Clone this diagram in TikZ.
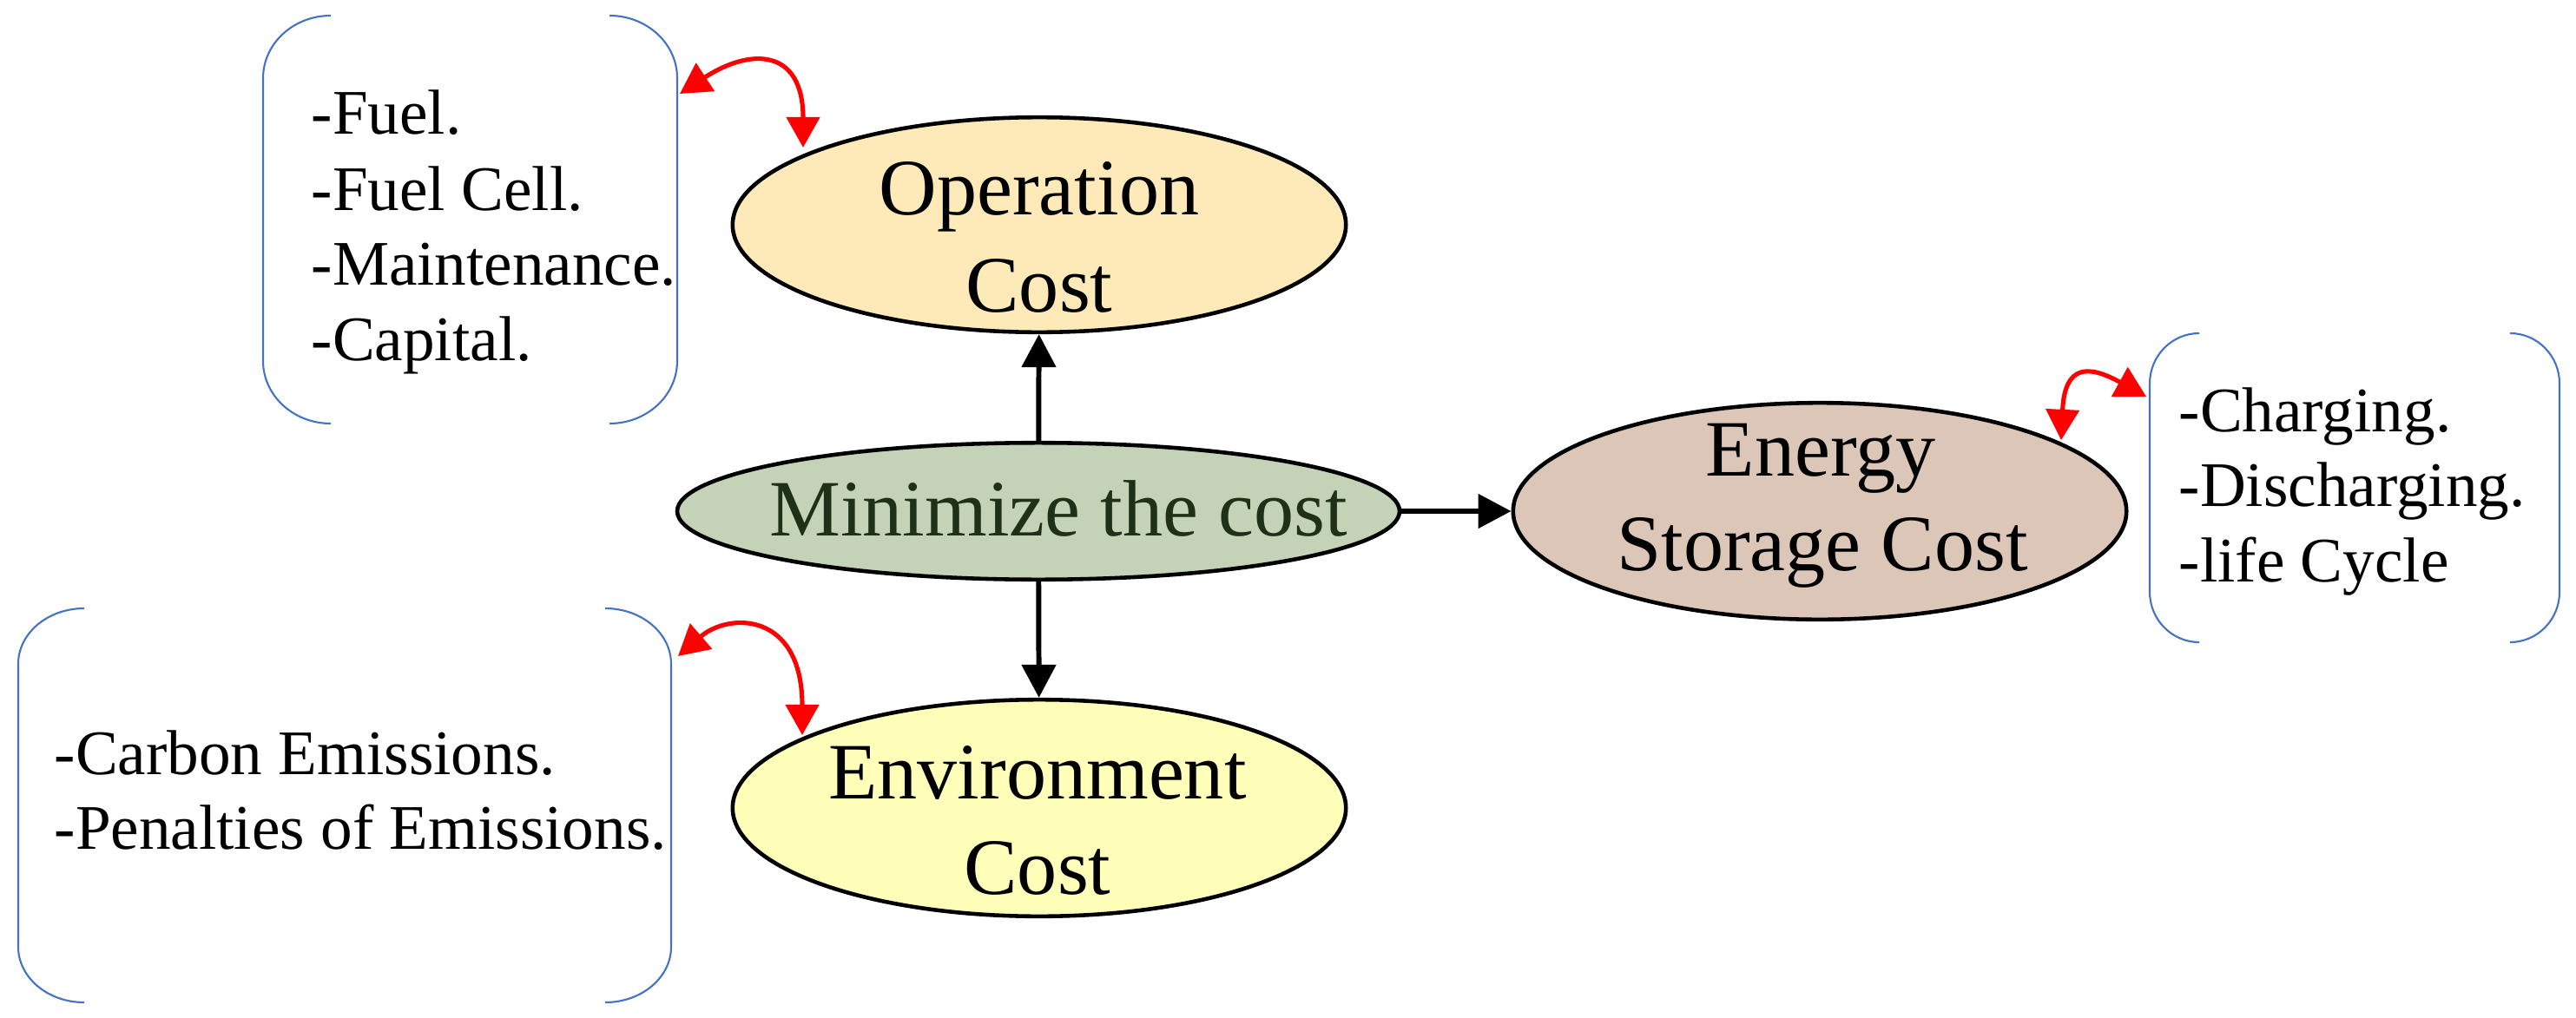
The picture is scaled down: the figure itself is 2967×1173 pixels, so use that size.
\documentclass[tikz,border=0pt]{standalone}
\usepackage{fontspec}
\setmainfont{Liberation Serif}
\usetikzlibrary{arrows.meta,shapes.geometric}
\definecolor{opfill}{RGB}{253,234,184}
\definecolor{minfill}{RGB}{196,211,183}
\definecolor{esfill}{RGB}{219,198,184}
\definecolor{envfill}{RGB}{255,255,185}
\definecolor{mintext}{RGB}{31,48,24}
\definecolor{bblue}{RGB}{68,114,196}
\newcommand{\brkpair}[6]{%
 \draw[brk] ({#1+#5},#3) .. controls ({#1+0.448*#5},#3) and (#1,{#3+0.448*#6}) .. (#1,{#3+#6}) -- (#1,{#4-#6}) .. controls (#1,{#4-0.448*#6}) and ({#1+0.448*#5},#4) .. ({#1+#5},#4);
 \draw[brk] ({#2-#5},#3) .. controls ({#2-0.448*#5},#3) and (#2,{#3+0.448*#6}) .. (#2,{#3+#6}) -- (#2,{#4-#6}) .. controls (#2,{#4-0.448*#6}) and ({#2-0.448*#5},#4) .. ({#2-#5},#4);}
\begin{document}
\begin{tikzpicture}[x=0.01cm, y=-0.01cm,
 ell/.style={ellipse, draw=black, line width=1.3pt, inner sep=0pt},
 big/.style={font=\fontsize{26.2}{31}\selectfont, inner sep=0pt, anchor=base},
 item/.style={font=\fontsize{20.8}{25}\selectfont, inner sep=0pt, anchor=base west},
 conn/.style={line width=1.7pt, -{Triangle[length=10.8pt,width=11pt]}},
 rarr/.style={red, line width=1.45pt, {Triangle[length=10pt,width=10.8pt]}-{Triangle[length=10pt,width=10.8pt]}},
 brk/.style={draw=bblue, line width=0.6pt}]
\useasboundingbox (0,0) rectangle (2967,1173);

% ellipses
\node[ell, fill=opfill, minimum width=7.06cm, minimum height=2.475cm] (op) at (1197,259) {};
\node[ell, fill=minfill, minimum width=8.315cm, minimum height=1.575cm] (min) at (1196,589) {};
\node[ell, fill=esfill, minimum width=7.06cm, minimum height=2.495cm] (es) at (2096,589) {};
\node[ell, fill=envfill, minimum width=7.06cm, minimum height=2.495cm] (env) at (1197,931) {};

% ellipse texts
\node[big] (opt1) at (1197,248) {Operation};
\node[big] (opt2) at (1197,359) {Cost};
\node[big, text=mintext] (mint) at (1219,617) {Minimize the cost};
\node[big] (est1) at (2097,548) {Energy};
\node[big] (est2) at (2099,657) {Storage Cost};
\node[big] (envt1) at (1195,920) {Environment};
\node[big] (envt2) at (1195,1030) {Cost};

% black connectors
\draw[conn] (min) -- (op);
\draw[conn] (min) -- (env);
\draw[conn] (min) -- (es);

% brackets
\brkpair{303}{780}{18}{488}{78}{72}
\brkpair{21}{773}{701}{1155}{76}{64}
\brkpair{2476}{2948}{384}{740}{57}{58}

% lists
\node[item] (a1) at (358,155) {-Fuel.};
\node[item] (a2) at (358,242) {-Fuel Cell.};
\node[item] (a3) at (358,328) {-Maintenance.};
\node[item] (a4) at (358,415) {-Capital.};
\node[item] (b1) at (62,892) {-Carbon Emissions.};
\node[item] (b2) at (62,978) {-Penalties of Emissions.};
\node[item] (c1) at (2509,497) {-Charging.};
\node[item] (c2) at (2509,583) {-Discharging.};
\node[item] (c3) at (2509,670) {-life Cycle};

% red double arrows
\coordinate (tlR) at (783,108);
\coordinate (opR) at (925,170);
\draw[rarr] (tlR) .. controls (864,55) and (925,55) .. (opR);
\coordinate (blR) at (781,756);
\coordinate (envR) at (924,847);
\draw[rarr] (blR) .. controls (840,705) and (924,705) .. (envR);
\coordinate (rbL) at (2472,457);
\coordinate (esR) at (2374,507);
\draw[rarr] (rbL) .. controls (2405,420) and (2378,420) .. (esR);
\end{tikzpicture}
\end{document}
